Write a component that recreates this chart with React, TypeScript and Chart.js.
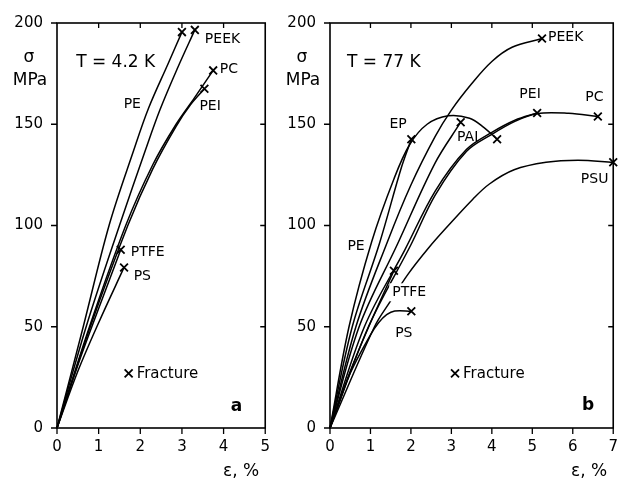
import React, { useEffect, useRef } from "react";
import { Chart, registerables } from "chart.js";

Chart.register(...registerables);

type Pair = [number, number];

// ---------- Panel a: T = 4.2 K (strain %, stress MPa) ----------
const A_PE: Pair[] = [[0, 0], [0.63, 50], [1.25, 100], [1.84, 137], [2.2, 158], [2.67, 180], [3.0, 195.5]];
const A_PEEK: Pair[] = [[0, 0], [0.7, 50], [1.5, 100], [2.12, 137], [2.47, 157], [2.9, 178], [3.31, 196.6]];
const A_PC: Pair[] = [[0, 0], [0.78, 50], [1.65, 100], [2.3, 130], [2.86, 150], [3.3, 163], [3.75, 176.6]];
const A_PEI: Pair[] = [[0, 0], [0.8, 50], [1.7, 100], [2.3, 128], [2.86, 149], [3.2, 159.5], [3.54, 167.5]];
const A_PTFE: Pair[] = [[0, 0], [0.5, 31], [1.0, 59], [1.53, 88]];
const A_PS: Pair[] = [[0, 0], [0.5, 28], [1.0, 52], [1.61, 79.3]];

// ---------- Panel b: T = 77 K ----------
const B_PE: Pair[] = [[0, 0], [0.47, 50], [1.03, 92], [1.58, 123], [1.97, 140], [2.4, 150], [2.92, 154.2], [3.45, 153], [3.8, 148.5], [4.13, 142.6]];
const B_EP: Pair[] = [[0, 0], [0.55, 50], [1.22, 91], [1.77, 129], [2.01, 142.6]];
const B_PEEK: Pair[] = [[0, 0], [0.64, 50], [1.42, 92], [2.0, 120], [2.6, 144], [3.0, 157], [3.5, 170], [4.0, 181], [4.5, 188], [5.24, 192.3]];
const B_PAI: Pair[] = [[0, 0], [0.72, 50], [1.66, 90.5], [2.59, 130.6], [3.23, 151]];
const B_PEI: Pair[] = [[0, 0], [0.85, 50], [1.85, 88], [2.6, 117], [3.37, 137.5], [4.0, 146], [4.57, 152], [5.12, 155.6]];
const B_PC: Pair[] = [[0, 0], [0.95, 50], [2.0, 90.5], [2.6, 115], [3.37, 136.5], [4.0, 145], [4.57, 151.4], [5.12, 155.3], [5.9, 155.4], [6.62, 153.8]];
const B_PTFE: Pair[] = [[0, 0], [0.5, 28], [1.0, 52], [1.58, 77.7]];
const B_PS: Pair[] = [[0, 0], [0.5, 27], [1.0, 46], [1.2, 52], [1.4, 56], [1.6, 57.8], [2.01, 57.7]];
const B_PSU: Pair[] = [[0, 0], [1.1, 50], [1.49, 62.5], [1.93, 76], [2.44, 89], [2.88, 99], [3.53, 113], [3.94, 120.5], [4.55, 127.5], [5.34, 131.2], [6.13, 132.2], [7.0, 131.2]];

// Tick ranges
const Y_MAX = 200;
const Y_STEP = 50;
const A_X_MAX = 5;
const B_X_MAX = 7;

// Curve labels (text, strain, stress) – left aligned, vertically centred
type Lab = { t: string; x: number; y: number; bg?: boolean };
const A_LABELS: Lab[] = [
  { t: "PE", x: 1.6, y: 160 },
  { t: "PEEK", x: 3.55, y: 192 },
  { t: "PC", x: 3.91, y: 177 },
  { t: "PEI", x: 3.42, y: 159 },
  { t: "PTFE", x: 1.77, y: 86.7 },
  { t: "PS", x: 1.84, y: 75 },
];
const B_LABELS: Lab[] = [
  { t: "EP", x: 1.47, y: 149.7 },
  { t: "PAI", x: 3.14, y: 143.4 },
  { t: "PEEK", x: 5.39, y: 193 },
  { t: "PEI", x: 4.68, y: 164.6 },
  { t: "PC", x: 6.31, y: 163.1 },
  { t: "PSU", x: 6.2, y: 122.7 },
  { t: "PE", x: 0.43, y: 89.6 },
  { t: "PTFE", x: 1.54, y: 67, bg: true },
  { t: "PS", x: 1.61, y: 46.8 },
];

const FONT = "'DejaVu Sans', sans-serif";

type PanelCfg = {
  curves: Pair[][];
  xMax: number;
  labels: Lab[];
  temp: string;
  tempPos: [number, number];
  fracPos: [number, number];
  letter: string;
  letterPos: [number, number];
  width: number;
  left: number;
  yW: number;
  padRight: number;
};

const PANEL_A: PanelCfg = {
  curves: [A_PE, A_PEEK, A_PC, A_PEI, A_PTFE, A_PS],
  xMax: A_X_MAX,
  labels: A_LABELS,
  temp: "T = 4.2 K",
  tempPos: [0.46, 180.5],
  fracPos: [1.72, 27],
  letter: "a",
  letterPos: [4.31, 10.7],
  width: 280,
  left: 0,
  yW: 57,
  padRight: 10.5,
};

const PANEL_B: PanelCfg = {
  curves: [B_PE, B_EP, B_PEEK, B_PAI, B_PEI, B_PC, B_PTFE, B_PS, B_PSU],
  xMax: B_X_MAX,
  labels: B_LABELS,
  temp: "T = 77 K",
  tempPos: [0.42, 180.5],
  fracPos: [3.09, 27],
  letter: "b",
  letterPos: [6.38, 11.2],
  width: 348,
  left: 280,
  yW: 50,
  padRight: 2,
};

function makeDecor(cfg: PanelCfg) {
  return {
    id: "decor" + cfg.letter,
    afterDraw(chart: any) {
      const { ctx, chartArea } = chart;
      const { left, right, top, bottom } = chartArea;
      const xs = chart.scales.x;
      const ys = chart.scales.y;
      ctx.save();
      ctx.strokeStyle = "#000";
      ctx.fillStyle = "#000";
      // frame
      ctx.lineWidth = 1.6;
      ctx.strokeRect(left, top, right - left, bottom - top);
      // ticks
      ctx.lineWidth = 1.3;
      ctx.beginPath();
      for (const t of xs.ticks) {
        const px = xs.getPixelForValue(t.value);
        ctx.moveTo(px, bottom);
        ctx.lineTo(px, bottom + 6);
        if (t.value > xs.min && t.value < xs.max) {
          ctx.moveTo(px, top);
          ctx.lineTo(px, top + 5);
        }
      }
      for (const t of ys.ticks) {
        const py = ys.getPixelForValue(t.value);
        ctx.moveTo(left - 6, py);
        ctx.lineTo(left, py);
        if (t.value > ys.min && t.value < ys.max) {
          ctx.moveTo(right, py);
          ctx.lineTo(right - 5, py);
        }
      }
      ctx.stroke();

      // curve labels
      ctx.font = "14px " + FONT;
      ctx.textAlign = "left";
      ctx.textBaseline = "middle";
      for (const l of cfg.labels) {
        const px = xs.getPixelForValue(l.x);
        const py = ys.getPixelForValue(l.y);
        if (l.bg) {
          const w = ctx.measureText(l.t).width;
          ctx.fillStyle = "#fff";
          ctx.fillRect(px - 3, py - 9, w + 6, 18);
          ctx.fillStyle = "#000";
        }
        ctx.fillText(l.t, px, py);
      }

      // temperature
      ctx.font = "17px " + FONT;
      ctx.fillText(cfg.temp, xs.getPixelForValue(cfg.tempPos[0]), ys.getPixelForValue(cfg.tempPos[1]));

      // fracture legend
      const fx = xs.getPixelForValue(cfg.fracPos[0]);
      const fy = ys.getPixelForValue(cfg.fracPos[1]);
      ctx.lineWidth = 1.8;
      ctx.beginPath();
      ctx.moveTo(fx - 4, fy - 4);
      ctx.lineTo(fx + 4, fy + 4);
      ctx.moveTo(fx + 4, fy - 4);
      ctx.lineTo(fx - 4, fy + 4);
      ctx.stroke();
      ctx.font = "15px " + FONT;
      ctx.fillText("Fracture", fx + 8, fy + 1);

      // panel letter
      ctx.font = "bold 17px " + FONT;
      ctx.textAlign = "center";
      ctx.fillText(cfg.letter, xs.getPixelForValue(cfg.letterPos[0]), ys.getPixelForValue(cfg.letterPos[1]));

      // axis titles
      ctx.font = "17px " + FONT;
      ctx.fillText("σ", left - 28, 58);
      ctx.fillText("MPa", left - 27, 81);
      ctx.textAlign = "right";
      ctx.fillText("ε, %", right - 6, 472);
      ctx.restore();
    },
  };
}

function Panel({ cfg }: { cfg: PanelCfg }) {
  const ref = useRef<HTMLCanvasElement>(null);
  useEffect(() => {
    if (!ref.current) return;
    const datasets = cfg.curves.map((c) => ({
      data: c.map(([x, y]) => ({ x, y })),
      borderColor: "#000",
      borderWidth: 1.5,
      fill: false,
      tension: 0.35,
      pointStyle: "crossRot" as const,
      pointRadius: (ctx: any) => (ctx.dataIndex === c.length - 1 ? 5.5 : 0),
      pointHoverRadius: 0,
      pointBorderColor: "#000",
      pointBorderWidth: 1.8,
      clip: false as any,
    }));
    const chart = new Chart(ref.current, {
      type: "line",
      data: { datasets },
      options: {
        animation: false,
        responsive: false,
        events: [],
        layout: { padding: { left: 0, right: cfg.padRight, top: 12, bottom: 0 } },
        plugins: { legend: { display: false }, tooltip: { enabled: false } },
        scales: {
          x: {
            type: "linear",
            min: 0,
            max: cfg.xMax,
            grid: { display: false, drawTicks: false },
            border: { display: false },
            ticks: { stepSize: 1, color: "#000", padding: 10, font: { family: FONT, size: 15 } },
            afterFit: (s: any) => {
              s.height = 56;
            },
          },
          y: {
            type: "linear",
            min: 0,
            max: Y_MAX,
            grid: { display: false, drawTicks: false },
            border: { display: false },
            ticks: { stepSize: Y_STEP, color: "#000", padding: 14, font: { family: FONT, size: 15 } },
            afterFit: (s: any) => {
              s.width = cfg.yW;
            },
          },
        },
      },
      plugins: [makeDecor(cfg)],
    });
    return () => chart.destroy();
  }, [cfg]);
  return (
    <canvas
      ref={ref}
      width={cfg.width}
      height={484}
      style={{ position: "absolute", left: cfg.left, top: 0, width: cfg.width, height: 484 }}
    />
  );
}

export default function App() {
  return (
    <div style={{ position: "absolute", left: 0, top: 0, width: 628, height: 484, background: "#fff" }}>
      <Panel cfg={PANEL_A} />
      <Panel cfg={PANEL_B} />
    </div>
  );
}
